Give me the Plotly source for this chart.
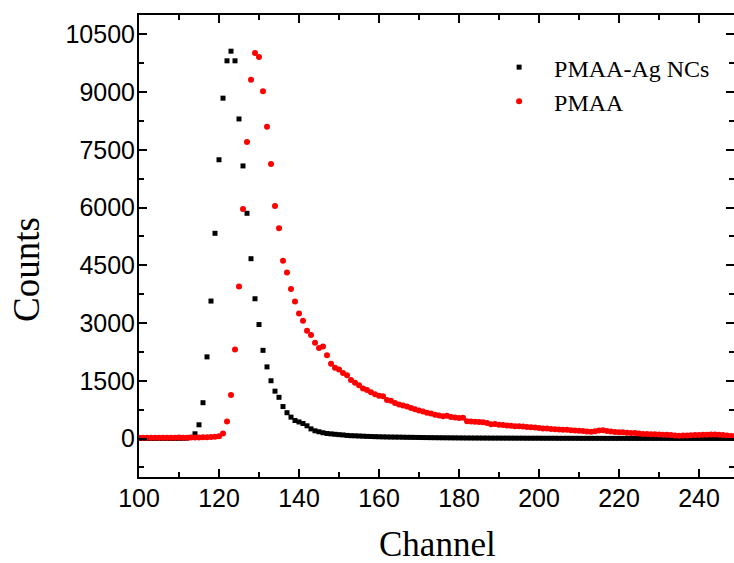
import plotly.graph_objects as go

channels = list(range(100, 251))

pmaa_ag = [3, 2, 4, 3, 2, 5, 3, 4, 2, 3, 5, 6, 10, 30,
           122, 356, 930, 2120, 3570, 5330, 7240, 8840, 9810, 10060, 9810, 8300,
           7080, 5850, 4670, 3630, 2960, 2290, 1860, 1500, 1230, 1070, 830, 670,
           555, 467, 430, 390, 330, 250, 200, 175, 150, 130, 120, 110, 100, 92,
           80, 73, 70, 65, 60, 55, 52, 48, 45,
           42, 40, 38, 36, 35, 33, 31, 30, 28, 27, 25, 24, 22, 21, 20, 19, 18, 17, 16, 15,
           14, 13, 13, 12, 12, 11, 11, 10, 10, 10, 9, 9, 9, 8, 8, 8, 7, 7, 7, 7,
           6, 6, 6, 6, 5, 5, 5, 5, 5, 4, 4, 4, 4, 4, 4, 3, 3, 3, 3, 3,
           3, 3, 2, 2, 2, 2, 2, 2, 2, 2, 2, 2, 1, 1, 1, 1, 1, 1, 1, 1,
           1, 1, 1, 1, 1, 1, 1, 1, 1, 1]

pmaa = [18, 20, 19, 21, 18, 20, 22, 19, 21, 20, 23, 21, 22, 24, 25, 27, 30, 35,
        38, 48, 60, 130, 440, 1130, 2310, 3950, 5960, 7700, 9320, 10010, 9910,
        9020, 8100, 7130, 6040, 5460, 4620, 4310, 3880, 3560, 3250, 3060, 2800,
        2690, 2490, 2350, 2390, 2160, 1940, 1840, 1790, 1700, 1640, 1520, 1450,
        1380, 1300, 1260, 1200, 1150, 1110, 1100, 1000, 980, 920, 880, 860, 830,
        790, 760, 730, 700, 670, 650, 620, 600, 580, 590, 560, 545, 530, 540,
        450, 440, 435, 430, 425, 400, 370, 375, 360, 350, 335, 330, 320, 315,
        310, 300, 290, 285, 270, 262, 258, 250, 240, 235, 228, 225, 215, 210,
        200, 195, 185, 175, 190, 205, 215, 195, 180, 170, 165, 160, 150, 145,
        140, 130, 120, 115, 110, 108, 104, 100, 95, 88, 80, 70, 75, 80, 85, 90,
        88, 95, 100, 104, 104, 95, 90, 80, 68, 70, 65]

x_ticks = [100, 120, 140, 160, 180, 200, 220, 240]
x_labels = ["100", "120", "140", "160", "180", "200", "220", "240"]
y_ticks = [0, 1500, 3000, 4500, 6000, 7500, 9000, 10500]
y_labels = ["0", "1500", "3000", "4500", "6000", "7500", "9000", "10500"]

fig = go.Figure()
fig.add_trace(go.Scatter(
    x=channels, y=pmaa_ag, mode="markers", name="PMAA-Ag NCs",
    marker=dict(symbol="square", size=5, color="black", line=dict(width=0)),
))
fig.add_trace(go.Scatter(
    x=channels, y=pmaa, mode="markers", name="PMAA",
    marker=dict(symbol="circle", size=6, color="#ff0000", line=dict(width=0)),
))

axis_common = dict(
    showline=True, linewidth=2, linecolor="black", mirror="ticks",
    ticks="inside", ticklen=8, tickwidth=2, tickcolor="black",
    showgrid=False, zeroline=False, automargin=False,
    tickfont=dict(family="Liberation Sans", size=25, color="black"),
)

fig.update_xaxes(
    range=[100, 248.75], tickvals=x_ticks, ticktext=x_labels,
    minor=dict(ticks="inside", ticklen=5, tickwidth=2, tickcolor="black", dtick=10, tick0=100, showgrid=False),
    ticklabelstandoff=-2,
    **axis_common,
)
fig.update_yaxes(
    range=[-1000, 11000], tickvals=y_ticks, ticktext=y_labels,
    minor=dict(ticks="inside", ticklen=5, tickwidth=2, tickcolor="black", dtick=750, tick0=0, showgrid=False),
    ticklabelstandoff=-3,
    **axis_common,
)

fig.update_layout(
    width=734, height=563,
    margin=dict(l=139, r=0, t=15, b=86),
    paper_bgcolor="white", plot_bgcolor="white",
    showlegend=True,
    legend=dict(
        x=0.58, y=0.935, xanchor="left", yanchor="top",
        bgcolor="rgba(0,0,0,0)", itemwidth=60,
        font=dict(family="Liberation Serif", size=24, color="black"),
        itemsizing="trace", tracegroupgap=0,
    ),
    annotations=[
        dict(text="Channel", xref="paper", yref="paper", x=0.5025, y=-0.147,
             xanchor="center", yanchor="middle", showarrow=False,
             font=dict(family="Liberation Serif", size=35, color="black")),
        dict(text="Counts", xref="paper", yref="paper", x=-0.1882, y=0.4481,
             xanchor="center", yanchor="middle", showarrow=False, textangle=-90,
             font=dict(family="Liberation Serif", size=37, color="black")),
    ],
)

fig.write_html(
    "out.html",
    config={"displayModeBar": False},
    post_script="document.body.style.margin='0';document.body.style.overflow='hidden';",
)
